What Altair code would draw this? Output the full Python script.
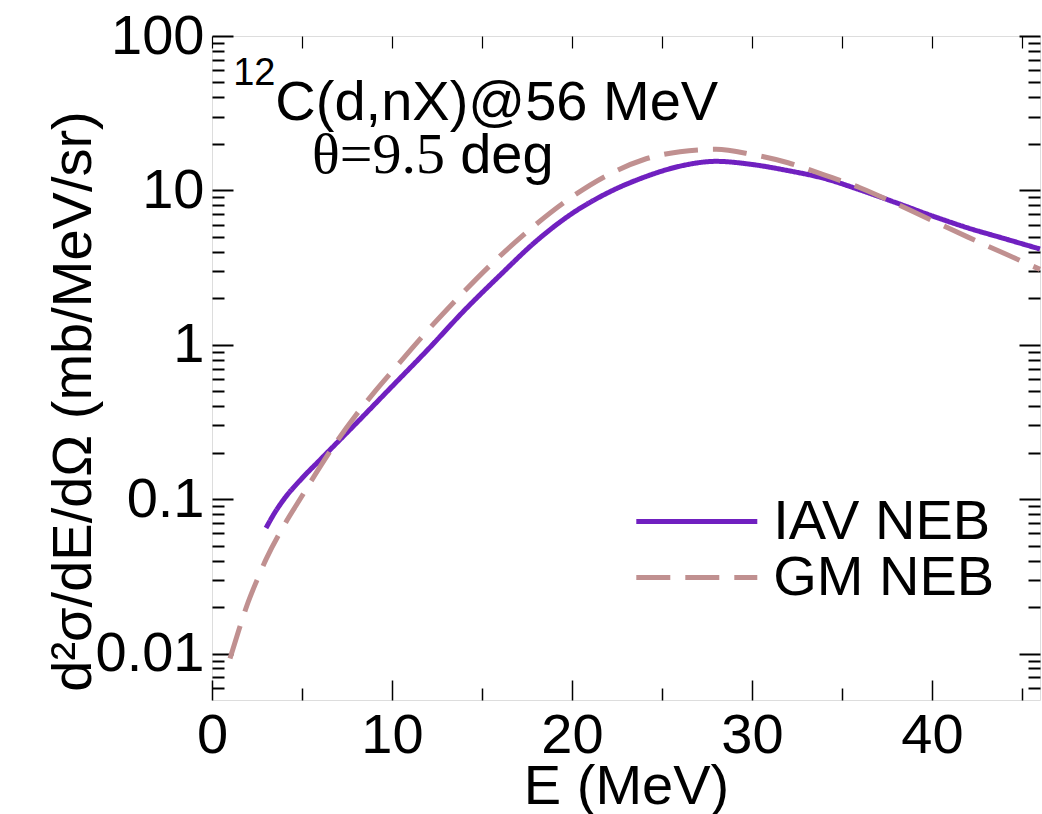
import altair as alt
import pandas as pd

# ---- data ----
iav_E = [3.0, 3.5, 4.0, 5.0, 6.0, 7.0, 8.0, 10.0, 12.0, 14.0, 16.0, 18.0, 20.0,
         22.0, 24.0, 26.0, 28.0, 30.0, 32.0, 34.0, 36.0, 38.0, 40.0, 42.0, 44.0,
         46.0]
iav_v = [0.065, 0.0822, 0.100, 0.1365, 0.1795, 0.2355, 0.309, 0.537, 0.933,
         1.66, 2.82, 4.68, 7.08, 9.66, 12.16, 14.35, 15.42, 14.72, 13.43, 11.97,
         10.07, 8.32, 6.84, 5.71, 4.88, 4.17]

gm_E = [1.0, 1.5, 2.0, 2.5, 3.0, 4.0, 5.0, 6.0, 7.0, 8.0, 9.0, 10.0, 12.0, 14.0,
        16.0, 18.0, 20.0, 22.0, 24.0, 26.0, 28.0, 30.0, 32.0, 34.0, 36.0, 38.0,
        40.0, 42.0, 44.0, 46.0]
gm_v = [0.0093, 0.0143, 0.0214, 0.0299, 0.0407, 0.0676, 0.1047, 0.162, 0.243,
        0.351, 0.49, 0.671, 1.245, 2.21, 3.76, 6.03, 9.08, 12.6, 15.85, 17.8,
        18.45, 17.1, 15.1, 12.6, 10.4, 8.2, 6.38, 4.98, 3.91, 3.08]

series_names = ["IAV NEB", "GM NEB"]
series_colors = ["#7020c0", "#c09090"]
series_dashes = [[1, 0], [34, 15]]

x_major = [0, 10, 20, 30, 40]
x_minor = [5, 15, 25, 35, 45]
y_major = [0.01, 0.1, 1, 10, 100]
y_minor = [0.006, 0.007, 0.008, 0.009,
           0.02, 0.03, 0.04, 0.05, 0.06, 0.07, 0.08, 0.09,
           0.2, 0.3, 0.4, 0.5, 0.6, 0.7, 0.8, 0.9,
           2, 3, 4, 5, 6, 7, 8, 9,
           20, 30, 40, 50, 60, 70, 80, 90]

ann_texts = ["12", "C(d,nX)@56 MeV", "θ=9.5", "deg"]
ann_E = [1.18, 3.52, 5.56, 13.79]
ann_v = [48.4, 28.7, 12.97, 12.97]

# ---- build table ----
df = pd.concat([
    pd.DataFrame({"E": iav_E, "v": iav_v, "series": series_names[0]}),
    pd.DataFrame({"E": gm_E, "v": gm_v, "series": series_names[1]}),
], ignore_index=True)

W, H = 828, 664
SANS = "Liberation Sans"
SERIF = "Liberation Serif"

xs = alt.Scale(domain=[0, 46], nice=False, zero=False)
ys = alt.Scale(type="log", domain=[0.005, 100], nice=False)

leg = alt.Legend(orient="none", legendX=421.8, legendY=459.5, title=None,
                 symbolType="stroke", symbolSize=14641, symbolStrokeWidth=5,
                 labelFontSize=56, labelFont=SANS, labelColor="black",
                 labelLimit=0, labelOffset=13.5, clipHeight=52, rowPadding=0,
                 padding=0)

lines = alt.Chart(df).mark_line(strokeWidth=5, strokeCap="butt",
                                interpolate="monotone").encode(
    x=alt.X("E:Q", scale=xs, axis=alt.Axis(
        orient="bottom", values=x_major, ticks=False, tickSize=0, domain=False,
        grid=False, labelFontSize=56, labelFont=SANS, labelColor="black",
        labelFlush=False, labelOverlap=False,
        labelBaseline="alphabetic", labelPadding=52, format="d",
        title="E (MeV)", titleFontSize=56, titleFont=SANS,
        titleFontWeight="normal", titleColor="black",
        titleBaseline="alphabetic", titleY=103, titleX=W / 2)),
    y=alt.Y("v:Q", scale=ys, axis=alt.Axis(
        orient="left", values=y_major, ticks=False, tickSize=0, domain=False,
        grid=False, labelFontSize=56, labelFont=SANS, labelColor="black",
        labelFlush=False, labelOverlap=False,
        labelPadding=8, format="~g",
        title="d²σ/dE/dΩ (mb/MeV/sr)", titleFontSize=56, titleFont=SANS,
        titleFontWeight="normal", titleColor="black", titleAngle=270,
        titleBaseline="alphabetic", titleAlign="center",
        titleX=-122, titleY=365)),
    color=alt.Color("series:N", scale=alt.Scale(domain=series_names,
                                                range=series_colors), legend=leg),
    strokeDash=alt.StrokeDash("series:N", scale=alt.Scale(domain=series_names,
                                                          range=series_dashes),
                              legend=leg),
)


def tick_layer(channel, orient, values, size, width):
    ax = alt.Axis(orient=orient, offset=-(W if channel == "y" else H),
                  values=values, tickSize=size, tickWidth=width,
                  tickColor="black", labels=False, domain=False, grid=False,
                  title=None)
    if channel == "x":
        enc = dict(x=alt.X("E:Q", scale=xs, axis=ax),
                   y=alt.Y("v:Q", scale=ys, axis=None))
    else:
        enc = dict(x=alt.X("E:Q", scale=xs, axis=None),
                   y=alt.Y("v:Q", scale=ys, axis=ax))
    return alt.Chart(df).mark_point(opacity=0).encode(**enc)


tick_layers = [
    tick_layer("y", "right", y_major, 21, 2),   # left edge, inward
    tick_layer("y", "right", y_minor, 12, 2),
    tick_layer("y", "left", y_major, 21, 2),    # right edge, inward
    tick_layer("y", "left", y_minor, 12, 2),
    tick_layer("x", "top", x_major, 20, 1.5),   # bottom edge, inward
    tick_layer("x", "top", x_minor, 12, 1.5),
    tick_layer("x", "bottom", x_major + x_minor, 12, 1.2),  # top edge, inward
]


def annot(i, size, font):
    d = pd.DataFrame({"E": [ann_E[i]], "v": [ann_v[i]], "t": [ann_texts[i]]})
    return alt.Chart(d).mark_text(align="left", baseline="alphabetic",
                                  fontSize=size, font=font, color="black").encode(
        x=alt.X("E:Q", scale=xs, axis=None),
        y=alt.Y("v:Q", scale=ys, axis=None),
        text="t:N")


texts = [annot(0, 38, SANS), annot(1, 56, SANS), annot(2, 58, SERIF),
         annot(3, 56, SANS)]

chart = alt.layer(lines, *tick_layers, *texts).resolve_axis(
    x="independent", y="independent"
).properties(
    width=W, height=H,
    padding={"left": 212, "top": 36, "right": 2, "bottom": 114},
    autosize=alt.AutoSizeParams(type="none"),
).configure_view(stroke="black", strokeWidth=2).configure(font=SANS)

chart.save("out.html", embed_options={"renderer": "svg", "actions": False})
